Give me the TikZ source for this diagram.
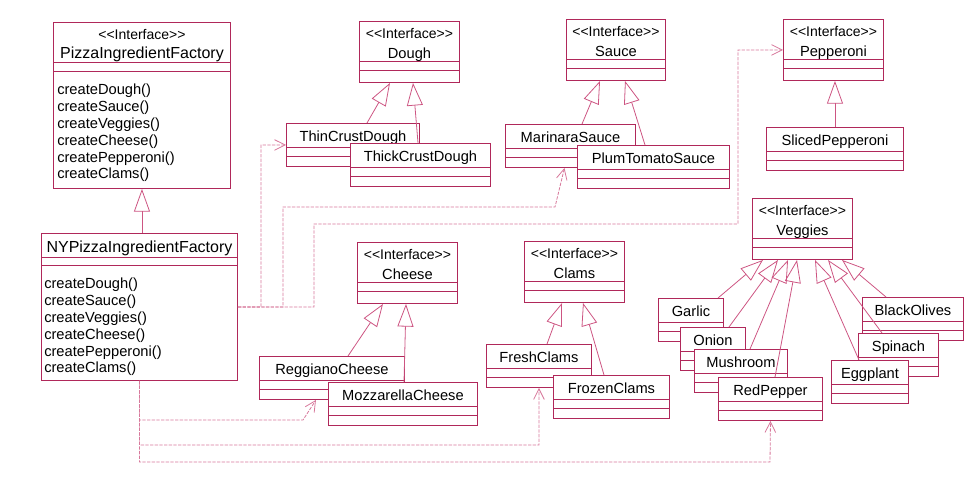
\documentclass[tikz,border=0pt]{standalone}
\usepackage{fontspec}
\setmainfont{Liberation Sans}
\usetikzlibrary{arrows.meta,calc}
\definecolor{umlred}{RGB}{176,40,90}
\definecolor{umlpink}{RGB}{205,85,130}
\definecolor{deppink}{RGB}{215,120,155}
\newcommand{\stereotype}{{\fontsize{10.5}{14}\selectfont\textless\kern0pt\textless Interface\textgreater\kern0pt\textgreater}}

\begin{document}
\begin{tikzpicture}[
    x=0.75pt, y=-0.75pt,
    box/.style={draw=umlred, fill=white, line width=0.7pt, anchor=north west, inner xsep=2pt, inner ysep=0pt, minimum width=#1*0.75pt},
    seps/.style={path picture={\foreach \d in {#1}
        \draw[umlred, line width=0.7pt] ([yshift=-\d*0.75pt]path picture bounding box.north west) -- ([yshift=-\d*0.75pt]path picture bounding box.north east);}},
    iface/.style={box=#1, align=center, font=\fontsize{11}{15}\selectfont, text height=27.4pt, text depth=18.35pt, seps={40,49}},
    impl/.style={box=#1, font=\fontsize{11}{13}\selectfont, text height=13.5pt, text depth=18.75pt, seps={24,33}},
    factory/.style={box=#1, align=center, font=\fontsize{12}{14.25}\selectfont},
    methods/.style={anchor=north west, inner sep=0pt, align=left, font=\fontsize{11}{12.6}\selectfont},
    inherit/.style={-{Triangle[open, length=17pt, width=12pt]}, umlpink, line width=0.6pt},
    uses/.style={-{Straight Barb[length=8pt, width=8pt]}, deppink, line width=0.6pt, dash pattern=on 2.5pt off 1pt}
]
\useasboundingbox (0,0) rectangle (973,482);

% factories
\node[factory=177, text height=27pt, text depth=97.5pt, seps={40,49}] (pif) at (53,22) {\stereotype\\PizzaIngredientFactory};
\node[methods] (pifops) at (57,84) {createDough()\\createSauce()\\createVeggies()\\createCheese()\\createPepperoni()\\createClams()};
\node[factory=196, text height=14.25pt, text depth=96pt, seps={24,32}] (nypif) at (41,233) {NYPizzaIngredientFactory};
\node[methods] (nyops) at (44,278) {createDough()\\createSauce()\\createVeggies()\\createCheese()\\createPepperoni()\\createClams()};

% dough
\node[iface=100] (dough) at (359,21) {\stereotype\\Dough};
\node[impl=133] (thin) at (286,123) {ThinCrustDough};
\node[impl=140] (thick) at (350,143) {ThickCrustDough};

% sauce
\node[iface=99] (sauce) at (566,19) {\stereotype\\Sauce};
\node[impl=130] (marinara) at (505,124) {MarinaraSauce};
\node[impl=152] (plum) at (577,145) {PlumTomatoSauce};

% pepperoni
\node[iface=100] (pepperoni) at (783,19) {\stereotype\\Pepperoni};
\node[impl=137] (sliced) at (766,127) {SlicedPepperoni};

% cheese
\node[iface=100] (cheese) at (357,242) {\stereotype\\Cheese};
\node[impl=145] (reggiano) at (259,356) {ReggianoCheese};
\node[impl=149] (mozz) at (328,382) {MozzarellaCheese};

% clams
\node[iface=100] (clams) at (524,241) {\stereotype\\Clams};
\node[impl=105] (fresh) at (486,344) {FreshClams};
\node[impl=116] (frozen) at (553,375) {FrozenClams};

% veggies
\node[iface=100] (veggies) at (752,198) {\stereotype\\Veggies};
\node[impl=65] (garlic) at (658,298) {Garlic};
\node[impl=65] (onion) at (680,327) {Onion};
\node[impl=93] (mushroom) at (694,349) {Mushroom};
\node[impl=104] (redpepper) at (718,377) {RedPepper};
\node[impl=101] (blackolives) at (862,297) {BlackOlives};
\node[impl=80] (spinach) at (858,333) {Spinach};
\node[impl=77] (eggplant) at (831,360) {Eggplant};

% generalizations
\draw[inherit] (pif.south |- nypif.north) -- (pif.south);
\draw[inherit] ($(thin.north west)+(81,0)$) -- ($(dough.south west)+(31,0)$);
\draw[inherit] ($(thick.north west)+(68,0)$) -- ($(dough.south west)+(54,0)$);
\draw[inherit] ($(marinara.north west)+(77,0)$) -- ($(sauce.south west)+(34,0)$);
\draw[inherit] ($(plum.north west)+(68,0)$) -- ($(sauce.south west)+(59,0)$);
\draw[inherit] (sliced.north) -- (sliced.north |- pepperoni.south);
\draw[inherit] ($(reggiano.north west)+(89,0)$) -- ($(cheese.south west)+(26,0)$);
\draw[inherit] ($(mozz.north west)+(76,0)$) -- ($(cheese.south west)+(49,0)$);
\draw[inherit] ($(fresh.north west)+(61,0)$) -- ($(clams.south west)+(38,0)$);
\draw[inherit] ($(frozen.north west)+(51,0)$) -- ($(clams.south west)+(59,0)$);
\draw[inherit] ($(garlic.north west)+(60,0)$) -- ($(veggies.south west)+(11,0)$);
\draw[inherit] ($(onion.north west)+(49,0)$) -- ($(veggies.south west)+(26,0)$);
\draw[inherit] ($(mushroom.north west)+(56,0)$) -- ($(veggies.south west)+(36,0)$);
\draw[inherit] ($(redpepper.north west)+(57,0)$) -- ($(veggies.south west)+(45,0)$);
\draw[inherit] ($(eggplant.north west)+(28,0)$) -- ($(veggies.south west)+(63,0)$);
\draw[inherit] ($(spinach.north west)+(24,0)$) -- ($(veggies.south west)+(76,0)$);
\draw[inherit] ($(blackolives.north west)+(24,0)$) -- ($(veggies.south west)+(90,0)$);

% dependencies of the NY factory
\draw[uses] (nypif.east) -| (261,145) -- (thin.west);
\draw[uses] (nypif.east) -| (283,207) -- (555,207) -- ($(marinara.south)+(-6,0)$);
\draw[uses] (nypif.east) -| (314,224) -| (738,50) -- (pepperoni.west);
\draw[uses] (nypif.south) |- (303,420) -- ($(reggiano.south)+(-16,0)$);
\draw[uses] (nypif.south) |- (539,445) -- (fresh.south);
\draw[uses] (nypif.south) |- (770,462) -- (redpepper.south);

\end{tikzpicture}
\end{document}
